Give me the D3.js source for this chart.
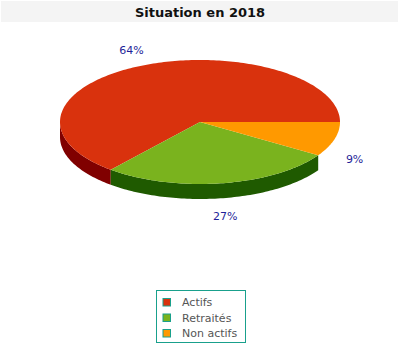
<!DOCTYPE html>
<html>
<head>
<meta charset="utf-8">
<script src="https://cdn.jsdelivr.net/npm/d3@7"></script>
<style>
  html, body { margin: 0; padding: 0; background: #fff; }
  svg { display: block; }
</style>
</head>
<body>
<svg id="chart" width="400" height="350"></svg>
<script>
// Population by status, 2018
const categories = ["Actifs", "Retraités", "Non actifs"];
const values = [64, 27, 9];
const topColors = ["#d9320d", "#7ab31e", "#ff9900"];
const sideColors = ["#800000", "#1f5a00", "#a84300"];
const title = "Situation en 2018";

const W = 400, H = 350;
const cx = 200, cy = 122, rx = 140, ry = 62, depth = 15;
const font = "DejaVu Sans, sans-serif";

const svg = d3.select("#chart");

// Title band
svg.append("rect").attr("x", 1).attr("y", 1).attr("width", 397).attr("height", 21)
  .attr("fill", "#f4f4f4");
svg.append("text").attr("x", W / 2).attr("y", 17).attr("text-anchor", "middle")
  .attr("font-family", font).attr("font-weight", "bold").attr("font-size", 13)
  .attr("fill", "#111").text(title);

// Slices run counter-clockwise from 3 o'clock in parametric angle
const pie = d3.pie().sort(null).startAngle(0).endAngle(-2 * Math.PI);
const arcs = pie(values).map((a, i) => ({ ...a, i }));

const px = t => cx + rx * Math.cos(t);
const py = (t, dy = 0) => cy + ry * Math.sin(t) + dy;

function ellipseArc(path, a0, a1, dy) {
  const steps = Math.max(2, Math.ceil(Math.abs(a1 - a0) / 0.02));
  for (let k = 0; k <= steps; k++) {
    const t = a0 + (a1 - a0) * k / steps;
    path.push([px(t), py(t, dy)]);
  }
}

const line = d3.line();

// Visible outer walls (front half: sin(t) > 0 ⇒ t in (0, π) mod 2π)
const sides = svg.append("g");
arcs.forEach(a => {
  let lo = Math.min(a.startAngle, a.endAngle), hi = Math.max(a.startAngle, a.endAngle);
  // normalise into [0, 2π)
  while (lo < 0) { lo += 2 * Math.PI; hi += 2 * Math.PI; }
  const s = Math.max(lo, 0), e = Math.min(hi, Math.PI);
  if (e <= s) return;
  const pts = [];
  ellipseArc(pts, s, e, 0);
  const back = [];
  ellipseArc(back, e, s, depth);
  sides.append("path").attr("d", line(pts.concat(back)) + "Z")
    .attr("fill", sideColors[a.i]);
});

// Top faces
const tops = svg.append("g");
arcs.forEach(a => {
  const pts = [[cx, cy]];
  ellipseArc(pts, a.startAngle, a.endAngle, 0);
  tops.append("path").attr("d", line(pts) + "Z").attr("fill", topColors[a.i]);
});

// Percentage labels
const total = d3.sum(values);
arcs.forEach(a => {
  const m = (a.startAngle + a.endAngle) / 2;
  const s = Math.sin(m);
  const x = cx + rx * 1.15 * Math.cos(m);
  const y = cy + ry * 1.29 * s + (s > 0 ? depth : 0) + 4;
  svg.append("text").attr("x", x).attr("y", y).attr("text-anchor", "middle")
    .attr("font-family", font).attr("font-size", 11).attr("fill", "#1f1f99")
    .text(Math.round(values[a.i] / total * 100) + "%");
});

// Legend
const lg = svg.append("g");
lg.append("rect").attr("x", 156.5).attr("y", 290.5).attr("width", 89).attr("height", 52)
  .attr("fill", "#fff").attr("stroke", "#19a08c").attr("stroke-width", 1);
categories.forEach((c, i) => {
  const yc = 302.5 + i * 15.5;
  lg.append("rect").attr("x", 163).attr("y", yc - 4).attr("width", 7.5).attr("height", 7.5)
    .attr("fill", topColors[i]).attr("stroke", "#19a08c").attr("stroke-width", 1);
  lg.append("text").attr("x", 182).attr("y", yc + 3.5)
    .attr("font-family", font).attr("font-size", 11).attr("fill", "#555").text(c);
});
</script>
</body>
</html>
